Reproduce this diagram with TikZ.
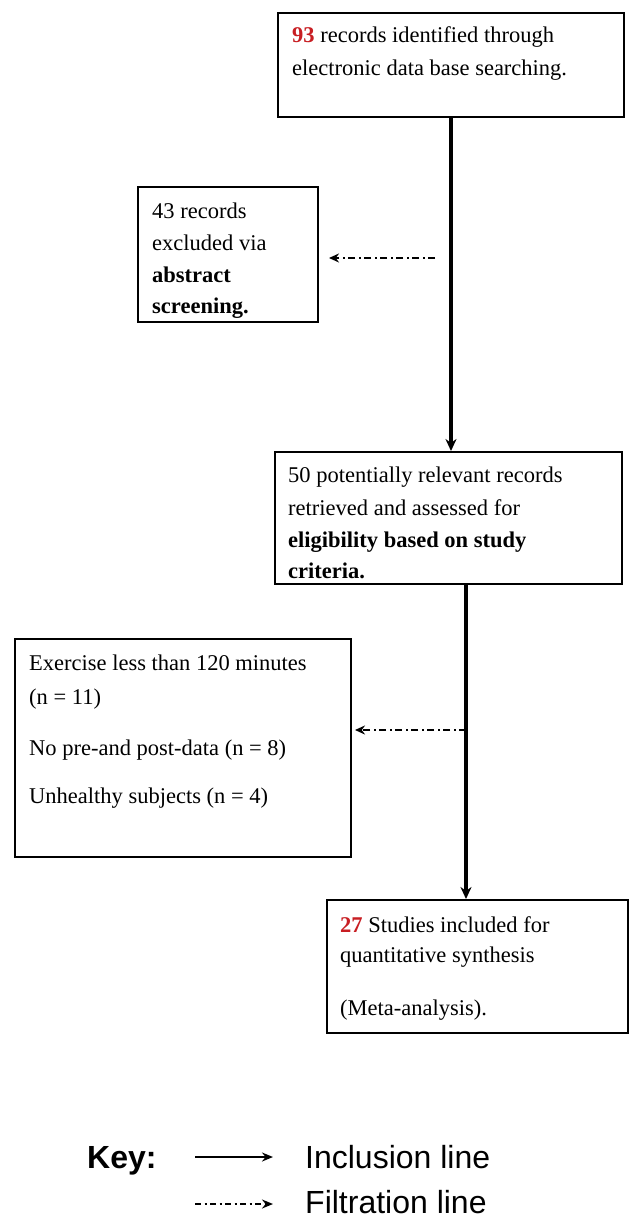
\documentclass[tikz,border=0pt]{standalone}
\usepackage{fontspec}
\setmainfont{Liberation Serif}
\newfontfamily\keyfont{Liberation Sans}
\usetikzlibrary{arrows.meta,calc}
\definecolor{numred}{RGB}{200,30,35}
\begin{document}
\begin{tikzpicture}[x=1pt,y=-1pt,
  box/.style={draw, line width=2pt, inner sep=0pt},
  txt/.style={anchor=base west, inner sep=0pt, font=\fontsize{22.5}{26}\selectfont},
  keytxt/.style={anchor=base west, inner sep=0pt, font=\keyfont\fontsize{32}{36}\selectfont},
  incl/.style={line width=3.2pt, -{Stealth[length=12pt,width=11pt]}},
  filt/.style={line width=2pt, dash pattern=on 7pt off 3.5pt on 2pt off 3.5pt, -{Stealth[length=10pt,width=9pt]}},
  keyincl/.style={line width=1.8pt, -{Stealth[length=11pt,width=9pt]}},
  keyfilt/.style={line width=1.8pt, dash pattern=on 6pt off 3.5pt on 2pt off 3.5pt, -{Stealth[length=11pt,width=9pt]}}]
\useasboundingbox (0,0) rectangle (632,1220);
\fill[white] (0,0) rectangle (632,1220);

% boxes
\node[box, minimum width=346pt, minimum height=104pt] (b1) at (451,65) {};
\node[box, minimum width=180pt, minimum height=135pt] (b2) at (228,254.5) {};
\node[box, minimum width=347pt, minimum height=132pt] (b3) at (448.5,518) {};
\node[box, minimum width=336pt, minimum height=218pt] (b4) at (183,748) {};
\node[box, minimum width=301pt, minimum height=133pt] (b5) at (477.5,966.5) {};

% box texts
\node[txt] (t1a) at (292,43) {\textcolor{numred}{\textbf{93}} records identified through};
\node[txt] (t1b) at (292,76) {electronic data base searching.};

\node[txt] (t2a) at (152,218) {43 records};
\node[txt] (t2b) at (152,250) {excluded via};
\node[txt] (t2c) at (152,282) {\textbf{abstract}};
\node[txt] (t2d) at (152,313) {\textbf{screening.}};

\node[txt] (t3a) at (288,482) {50 potentially relevant records};
\node[txt] (t3b) at (288,515) {retrieved and assessed for};
\node[txt] (t3c) at (288,547) {\textbf{eligibility based on study}};
\node[txt] (t3d) at (288,578) {\textbf{criteria.}};

\node[txt] (t4a) at (29,670) {Exercise less than 120 minutes};
\node[txt] (t4b) at (29,704) {(n = 11)};
\node[txt] (t4c) at (29,755) {No pre-and post-data (n = 8)};
\node[txt] (t4d) at (29,803) {Unhealthy subjects (n = 4)};

\node[txt] (t5a) at (340,932) {\textcolor{numred}{\textbf{27}} Studies included for};
\node[txt] (t5b) at (340,962) {quantitative synthesis};
\node[txt] (t5c) at (340,1015) {(Meta-analysis).};

% inclusion lines
\draw[incl] (b1.south) -- (b1.south |- b3.north);
\coordinate (j2) at ($(b3.south)+(17.5,0)$);
\draw[incl] (j2) -- (j2 |- b5.north);

% filtration lines
\coordinate (f1) at (435,258);
\draw[filt] (f1) -- ($(b2.east |- f1)+(10,0)$);
\coordinate (f2) at (466,730);
\draw[filt] (f2) -- ($(b4.east |- f2)+(3,0)$);

% key
\node[keytxt] (key) at (87,1168) {\textbf{Key:}};
\coordinate (k1s) at (195,1157);
\coordinate (k1e) at (273,1157);
\draw[keyincl] (k1s) -- (k1e);
\node[keytxt] (kinc) at (305,1168) {Inclusion line};
\coordinate (k2s) at (195,1204);
\coordinate (k2e) at (273,1204);
\draw[keyfilt] (k2s) -- (k2e);
\node[keytxt] (kfil) at (305,1213) {Filtration line};
\end{tikzpicture}
\end{document}
